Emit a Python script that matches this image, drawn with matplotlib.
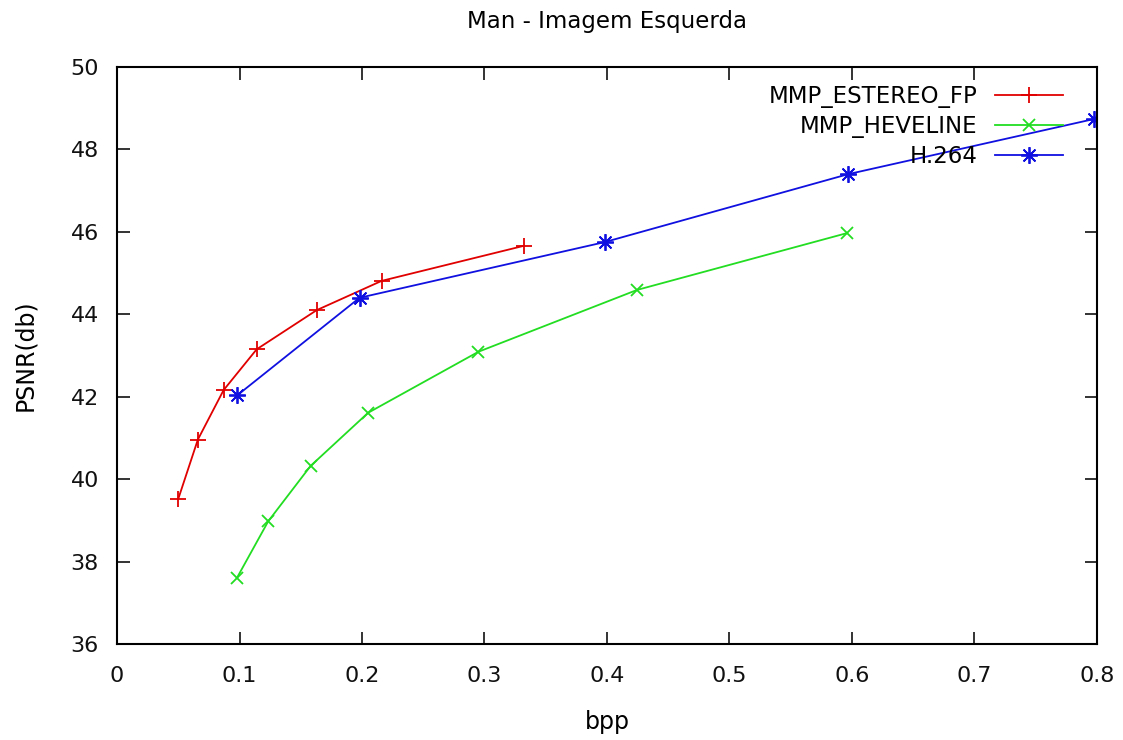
import matplotlib
matplotlib.use('Agg')
import matplotlib.pyplot as plt

# dados
fp_bpp = [0.050, 0.066, 0.087, 0.114, 0.163, 0.216, 0.332]
fp_psnr = [39.52, 40.96, 42.16, 43.15, 44.10, 44.81, 45.66]

hev_bpp = [0.098, 0.1235, 0.158, 0.205, 0.295, 0.4245, 0.596]
hev_psnr = [37.61, 38.98, 40.32, 41.61, 43.09, 44.59, 45.97]

h264_bpp = [0.098, 0.198, 0.398, 0.597, 0.798]
h264_psnr = [42.03, 44.40, 45.75, 47.40, 48.74]

x_ticks = [0, 0.1, 0.2, 0.3, 0.4, 0.5, 0.6, 0.7, 0.8]
x_labels = ['0', '0.1', '0.2', '0.3', '0.4', '0.5', '0.6', '0.7', '0.8']
y_ticks = [36, 38, 40, 42, 44, 46, 48, 50]

plt.rcParams['font.family'] = ['DejaVu Sans']

fig = plt.figure(figsize=(11.23, 7.40), dpi=100)
ax = fig.add_axes([0.1042, 0.1297, 0.8726, 0.7798])

ax.plot(fp_bpp, fp_psnr, color='#e00000', marker='+', markersize=11, mew=1.3,
        linewidth=1.3, label='MMP_ESTEREO_FP')
ax.plot(hev_bpp, hev_psnr, color='#22dd22', marker='x', markersize=9, mew=1.3,
        linewidth=1.3, label='MMP_HEVELINE')
ax.plot(h264_bpp, h264_psnr, color='#1010e0', marker=(8, 2, 0), markersize=12, mew=1.3,
        linewidth=1.3, label='H.264')

ax.set_xlim(0, 0.8)
ax.set_ylim(36, 50)
ax.set_xticks(x_ticks)
ax.set_xticklabels(x_labels)
ax.set_yticks(y_ticks)
ax.tick_params(direction='in', length=9, width=1.2, top=True, right=True,
               labelsize=16, colors='#111111')
ax.tick_params(axis='x', pad=16)
ax.tick_params(axis='y', pad=13)
for s in ax.spines.values():
    s.set_linewidth(1.5)

ax.set_title('Man - Imagem Esquerda', fontsize=16.5, pad=28)
ax.set_xlabel('bpp', fontsize=17, labelpad=17)
ax.set_ylabel('PSNR(db)', fontsize=17, labelpad=24)

ax.legend(loc='upper right', frameon=False, markerfirst=False, fontsize=16.5,
          handlelength=3.0, handletextpad=0.75, labelspacing=0.32,
          borderaxespad=0.0, bbox_to_anchor=(0.975, 0.985))

fig.savefig('out.png', dpi=100)
plt.close()
